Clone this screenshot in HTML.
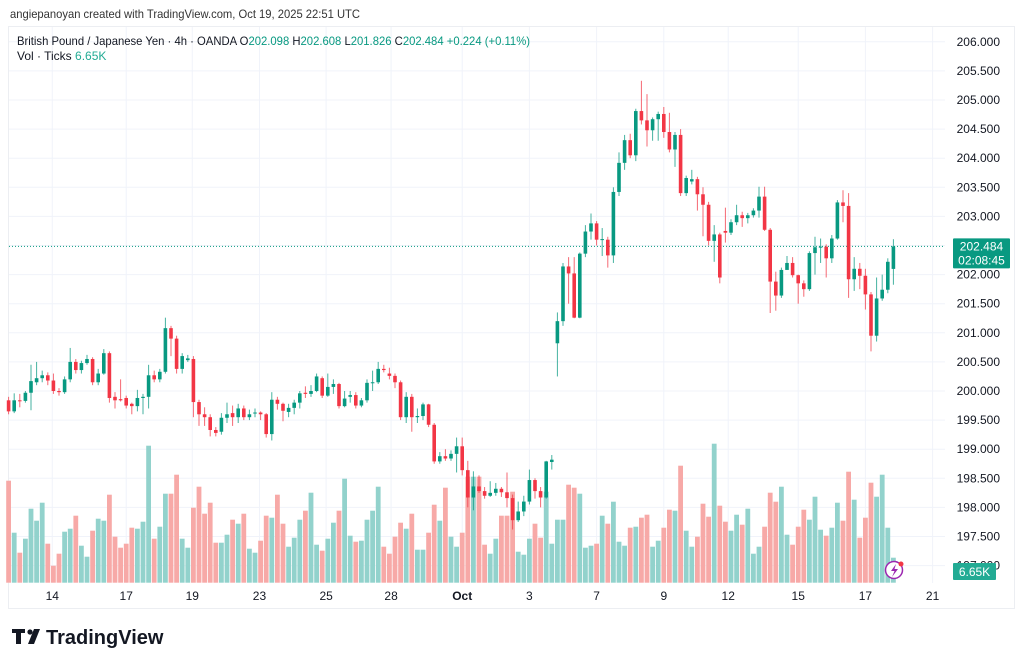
<!DOCTYPE html>
<html><head><meta charset="utf-8">
<style>
body{margin:0;width:1024px;height:665px;background:#fff;overflow:hidden;font-family:"Liberation Sans",sans-serif;}
svg{position:absolute;left:0;top:0}
</style></head>
<body>
<svg id="chart" width="1024" height="665">
  <rect x="0" y="0" width="1024" height="665" fill="#fff"/>
  <text x="10" y="18" font-size="12" fill="#333" textLength="350" lengthAdjust="spacingAndGlyphs">angiepanoyan created with TradingView.com, Oct 19, 2025 22:51 UTC</text>
  <rect x="8.5" y="26.5" width="1006" height="582" fill="none" stroke="#eceef2"/>
  <g id="grid"></g>
  <g id="vol"></g>
  <line x1="9" x2="945" id="lastline" stroke="#089981" stroke-dasharray="1,2"/>
  <g id="candles"></g>
  <g id="yaxis"></g>
  <g id="xaxis"></g>
  <g font-size="12">
    <text x="17" y="45" fill="#131722" textLength="513" lengthAdjust="spacingAndGlyphs">British Pound / Japanese Yen · 4h · OANDA  O<tspan fill="#089981">202.098</tspan>  H<tspan fill="#089981">202.608</tspan>  L<tspan fill="#089981">201.826</tspan>  C<tspan fill="#089981">202.484</tspan>  <tspan fill="#089981">+0.224 (+0.11%)</tspan></text>
    <text x="17" y="60" fill="#131722">Vol · Ticks <tspan fill="#22ab94">6.65K</tspan></text>
  </g>
  <g id="lastlabel"></g>
  <g>
    <rect x="953" y="563" width="43" height="17" fill="#22ab94" rx="1"/>
    <text x="974.5" y="576" fill="#fff" font-size="12" text-anchor="middle">6.65K</text>
  </g>
  <g>
    <circle cx="894" cy="570" r="8.5" fill="#fff" stroke="#9c27b0" stroke-width="1.5"/>
    <path d="M896 564 L891 571 L894.5 571 L892 577 L898 569 L894.5 569 Z" fill="#9c27b0"/>
    <circle cx="901" cy="564" r="2.5" fill="#f23645"/>
  </g>
  <g>
    <path d="M12 629 h13 v4 h-4 v11 h-5 v-11 h-4 Z" fill="#131722"/>
    <circle cx="30" cy="632" r="2.6" fill="#131722"/>
    <path d="M34 629 h6 l-6 15 h-6 Z" fill="#131722"/>
    <text x="46" y="644" font-size="20" font-weight="bold" fill="#131722">TradingView</text>
  </g>
</svg>
<script>
const opens=[199.84,199.65,199.84,199.83,199.97,200.15,200.22,200.27,200.18,200.0,199.98,200.2,200.5,200.36,200.48,200.55,200.15,200.3,200.65,199.9,199.86,199.88,199.78,199.74,199.88,199.9,200.27,200.2,200.33,201.08,200.9,200.38,200.53,200.55,199.81,199.6,199.55,199.33,199.3,199.54,199.62,199.55,199.7,199.55,199.62,199.63,199.6,199.26,199.85,199.78,199.64,199.71,199.8,199.97,199.95,200.0,200.22,199.92,200.07,200.12,199.74,199.9,199.93,199.75,199.84,200.14,200.15,200.38,200.3,200.26,200.15,199.55,199.9,199.55,199.57,199.77,199.42,198.79,198.88,198.84,198.92,199.05,198.64,198.17,198.36,198.28,198.2,198.25,198.32,198.26,198.16,197.78,197.93,198.1,198.47,198.28,198.17,198.78,200.82,201.2,202.14,202.02,201.26,202.36,202.74,202.88,202.6,202.6,202.33,203.42,203.92,204.31,204.05,204.81,204.65,204.48,204.67,204.76,204.45,204.15,204.4,203.4,203.6,203.64,203.38,203.2,202.58,202.69,202.75,202.72,202.9,203.02,202.97,203.02,203.1,203.34,202.77,201.88,201.64,202.08,202.2,201.99,201.85,201.75,202.37,202.47,202.48,202.28,202.62,203.24,203.18,201.92,202.1,201.98,201.66,200.95,201.59,201.74,202.098];
const highs=[199.9,199.96,199.95,200.0,200.45,200.5,200.35,200.32,200.3,200.05,200.25,200.74,200.55,200.52,200.62,200.58,200.38,200.72,200.68,199.98,200.2,199.92,199.8,200.02,199.95,200.45,200.35,200.38,201.26,201.12,200.95,200.65,200.62,200.6,199.85,199.72,199.6,199.38,199.62,199.8,199.75,199.78,199.75,199.68,199.7,199.65,199.62,199.98,199.9,199.8,199.78,199.85,200.0,200.08,200.1,200.3,200.25,200.3,200.2,200.14,200.0,200.0,199.98,199.88,200.2,200.35,200.5,200.45,200.4,200.3,200.18,199.98,199.95,199.7,199.8,199.78,199.45,198.95,199.0,198.98,199.2,199.2,198.8,198.62,198.55,198.35,198.45,198.42,198.35,198.6,198.22,198.1,198.2,198.65,198.5,198.35,198.8,198.9,201.35,202.2,202.3,202.3,202.38,202.85,203.05,202.92,202.8,202.65,203.5,204.1,204.4,204.42,204.85,205.33,205.1,204.7,204.8,204.88,204.78,204.45,204.5,203.7,203.8,203.68,203.5,203.25,202.85,202.72,203.15,202.95,203.2,203.08,203.06,203.14,203.51,203.51,202.8,202.05,202.12,202.32,202.3,202.0,201.9,202.4,202.65,202.62,202.52,202.68,203.28,203.45,203.4,202.3,202.2,202.1,201.7,201.95,202.0,202.28,202.608];
const lows=[199.6,199.62,199.72,199.8,199.67,200.1,200.15,200.1,199.95,199.92,199.95,200.15,200.3,200.3,200.45,200.1,200.1,200.28,199.8,199.7,199.82,199.7,199.6,199.65,199.6,199.7,200.15,200.15,200.3,200.6,200.3,200.3,200.5,199.55,199.4,199.4,199.22,199.22,199.25,199.45,199.4,199.45,199.5,199.5,199.55,199.5,199.2,199.15,199.68,199.48,199.55,199.6,199.7,199.88,199.9,199.98,199.88,199.9,199.95,199.7,199.72,199.8,199.7,199.72,199.8,200.0,200.12,200.32,200.2,200.05,199.5,199.45,199.3,199.45,199.5,199.38,198.75,198.75,198.8,198.8,198.6,198.55,198.0,197.95,198.25,198.15,198.18,198.2,198.18,198.0,197.62,197.75,197.85,198.05,198.15,198.0,198.15,198.65,200.25,201.12,201.5,201.25,201.25,202.3,202.6,202.5,202.32,202.12,202.2,203.35,203.8,204.0,203.95,204.58,204.2,204.3,204.3,204.35,204.1,203.85,203.35,203.35,203.55,203.1,202.66,202.5,202.22,201.85,202.55,202.68,202.85,202.82,202.88,202.98,202.98,202.75,201.34,201.38,201.6,202.1,201.95,201.5,201.62,201.72,202.0,202.2,201.95,202.2,202.6,202.9,201.6,201.72,201.75,201.4,200.68,200.85,201.55,201.68,201.826];
const closes=[199.65,199.84,199.83,199.97,200.17,200.22,200.27,200.18,200.0,199.98,200.2,200.5,200.36,200.48,200.55,200.15,200.3,200.65,199.88,199.84,199.84,199.75,199.74,199.88,199.9,200.27,200.2,200.33,201.08,200.9,200.38,200.6,200.56,199.81,199.6,199.55,199.33,199.28,199.54,199.6,199.55,199.7,199.55,199.6,199.63,199.6,199.26,199.85,199.78,199.66,199.71,199.8,199.96,199.95,200.0,200.25,199.92,200.07,200.12,199.74,199.87,199.93,199.75,199.84,200.14,200.15,200.38,200.36,200.26,200.15,199.55,199.9,199.55,199.57,199.77,199.42,198.79,198.88,198.84,198.92,199.05,198.64,198.17,198.36,198.28,198.2,198.25,198.32,198.26,198.16,197.78,197.93,198.1,198.47,198.28,198.17,198.79,198.82,201.2,202.14,202.02,201.26,202.36,202.74,202.88,202.6,202.61,202.33,203.42,203.92,204.31,204.05,204.81,204.65,204.48,204.67,204.76,204.45,204.15,204.4,203.4,203.66,203.64,203.38,203.2,202.58,202.69,201.95,202.72,202.9,203.02,202.97,203.02,203.1,203.34,202.77,201.88,201.64,202.08,202.2,201.99,201.85,201.75,202.37,202.47,202.48,202.28,202.62,203.24,203.18,201.92,202.1,201.98,201.66,200.95,201.59,201.74,202.22,202.484];
const volumes=[102,50,30,44,74,62,80,39,17,29,51,54,67,37,26,52,64,62,88,46,35,39,55,54,61,137,44,56,89,89,108,44,35,75,96,69,80,40,40,48,63,59,69,34,30,42,67,65,88,59,36,45,63,72,90,38,32,44,60,72,104,47,41,42,63,72,96,36,29,46,60,54,69,33,33,50,78,62,95,46,36,50,106,106,106,38,29,44,67,67,91,31,28,44,59,45,91,39,63,63,98,95,89,35,37,39,67,59,81,41,37,55,56,65,68,36,42,55,73,72,117,52,36,46,79,66,139,77,61,52,68,58,74,29,36,56,90,81,96,48,38,56,73,63,86,53,47,55,80,62,111,83,45,65,100,86,108,55,25];
const priceTicks=[206,205.5,205,204.5,204,203.5,203,202.5,202,201.5,201,200.5,200,199.5,199,198.5,198,197.5,197];
const dateLabels=["14","17","19","23","25","28","Oct","3","7","9","12","15","17","21"];
const dateIndex=[7.8,21,32.8,44.8,56.7,68.3,81,93,105,117,128.5,141,153,165];
const lastPrice=202.484;

const NS="http://www.w3.org/2000/svg";
const X0=8.6, STEP=5.6, BASE=582.7;
const xAt=i=>X0+i*STEP;
const yAt=p=>41.8+(206-p)*58.2;
const vAt=v=>BASE-v;
function mk(tag,attrs,parent){const e=document.createElementNS(NS,tag);for(const k in attrs)e.setAttribute(k,attrs[k]);parent.appendChild(e);return e;}

const grid=document.getElementById('grid');
priceTicks.forEach(p=>{const l=mk('line',{x1:9,x2:945,y1:yAt(p),y2:yAt(p),stroke:'#f0f3fa'},grid);

});
dateIndex.forEach(i=>{const l=mk('line',{x1:xAt(i),x2:xAt(i),y1:27,y2:583,stroke:'#f0f3fa'},grid);

});

const yaxis=document.getElementById('yaxis');
priceTicks.forEach(p=>{const t=mk('text',{x:1000,y:yAt(p)+4,'font-size':12,fill:'#131722','text-anchor':'end'},yaxis);t.textContent=p.toFixed(3);

});

const xaxis=document.getElementById('xaxis');
dateLabels.forEach((d,k)=>{const t=mk('text',{x:xAt(dateIndex[k]),y:600,'font-size':12,fill:'#131722','text-anchor':'middle','font-weight':d==='Oct'?'bold':'normal'},xaxis);t.textContent=d;

});

const vol=document.getElementById('vol');
volumes.forEach((v,i)=>{const up=closes[i]>=opens[i];
const r=mk('rect',{x:xAt(i)-2.4,y:vAt(v),width:4.8,height:v,fill:up?'#92d2cc':'#f7a9a7'},vol);

});

const cg=document.getElementById('candles');
closes.forEach((c,i)=>{const o=opens[i],up=c>=o,col=up?'#089981':'#f23645',x=xAt(i);
const g=mk('g',{},cg);


mk('line',{x1:x,x2:x,y1:yAt(highs[i]),y2:yAt(lows[i]),stroke:col,'stroke-width':1,opacity:0.75},g);
const top=yAt(Math.max(o,c)),h=Math.max(1,Math.abs(yAt(o)-yAt(c)));
mk('rect',{x:x-1.8,y:top,width:3.6,height:h,fill:col},g);});

const ll=document.getElementById('lastline');
ll.setAttribute('y1',yAt(lastPrice));ll.setAttribute('y2',yAt(lastPrice));
const lab=document.getElementById('lastlabel');
const ly=yAt(lastPrice);
mk('rect',{x:953,y:ly-8,width:57,height:30,fill:'#089981',rx:1},lab);
const t1=mk('text',{x:981.5,y:ly+4,'font-size':12,fill:'#fff','text-anchor':'middle'},lab);t1.textContent=lastPrice.toFixed(3);
const t2=mk('text',{x:981.5,y:ly+18,'font-size':12,fill:'#fff','text-anchor':'middle'},lab);t2.textContent="02:08:45";
</script>
</body></html>
